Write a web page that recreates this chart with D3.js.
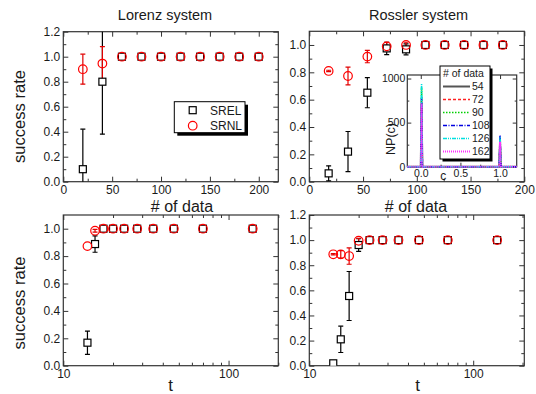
<!DOCTYPE html>
<html><head><meta charset="utf-8">
<script src="https://cdn.jsdelivr.net/npm/d3@7"></script>
<style>
body{margin:0;background:#fff;}
svg{display:block;font-family:"Liberation Sans",Arial,sans-serif;}
</style></head>
<body>
<svg id="chart" width="536" height="394"></svg>
<script>
// ---------------- data ----------------
const lorenzN = [20,40,60,80,100,120,140,160,180,200];
const lorenzSREL = [0.10,0.80,1,1,1,1,1,1,1,1];
const lorenzSRELerr = [0.32,0.42,0,0,0,0,0,0,0,0];
const lorenzSRNL = [0.90,0.945,1,1,1,1,1,1,1,1];
const lorenzSRNLerr = [0.12,0.135,0,0,0,0,0,0,0,0];

const rosslerN = [18,36,54,72,90,108,126,144,162,180];
const rosslerSREL = [0.061,0.22,0.651,0.975,0.968,1,1,1,1,1];
const rosslerSRELerr = [0.055,0.147,0.11,0.045,0.04,0,0,0,0,0];
const rosslerSRNL = [0.81,0.773,0.915,0.99,1.0,1,1,1,1,1];
const rosslerSRNLerr = [0.005,0.065,0.045,0.03,0.02,0,0,0,0,0];

const tValues = [14,15.56,17.5,20,23.33,28,35,46.67,70,140];
const lorenzTSREL = [0.168,0.888,1,1,1,1,1,1,1,1];
const lorenzTSRELerr = [0.085,0.06,0,0,0,0,0,0,0,0];
const lorenzTSRNL = [0.873,0.985,1,1,1,1,1,1,1,1];
const lorenzTSRNLerr = [0,0.01,0,0,0,0,0,0,0,0];

const rosslerTSREL = [0.019,0.21,0.555,0.961,1,1,1,1,1,1];
const rosslerTSRELerr = [0.01,0.105,0.195,0.05,0,0,0,0,0,0];
const rosslerTSRNL = [0.887,0.887,0.873,0.995,1,1,1,1,1,1];
const rosslerTSRNLerr = [0.005,0.03,0.065,0.02,0,0,0,0,0,0];

// inset histogram NP(c)
const insetSeries = ["54","72","90","108","126","162"];
const insetC = [-0.17,0.0,0.01,0.02,0.99,1.0,1.01,1.21];
const np54  = [0,0,700,0,0,300,0,0];
const np72  = [0,0,763,0,0,310,0,0];
const np90  = [0,0,900,0,0,290,0,0];
const np108 = [0,0,786,0,0,359,0,0];
const np126 = [0,0,943,0,0,335,0,0];
const np162 = [0,0,718,0,0,283,0,0];

const legendLabels = ["SREL","SRNL"];
const linTicks = [0,50,100,150,200];
const linMinor = [25,75,125,175];
const yTicks12 = [0,0.2,0.4,0.6,0.8,1.0,1.2];
const yTicks10 = [0,0.2,0.4,0.6,0.8,1.0];
const logTicks = [10,100];
const logMinor = [20,30,40,50,60,70,80,90,200];

// ---------------- drawing ----------------
const svg = d3.select("#chart");
const TXT = "#1a1a1a", AX = "#333";

function frame(x, y, o){
  const g = svg.append("g");
  const [x0,x1] = x.range(), [y0,y1] = y.range();
  const mk = (axisFn, scale, vals, size, fmt, pos, pad) => {
    const a = axisFn(scale).tickValues(vals).tickSize(size).tickSizeOuter(0).tickPadding(pad||3);
    a.tickFormat(fmt || (()=> ""));
    const gg = g.append("g").attr("transform", pos).call(a);
    gg.select(".domain").remove();
    gg.selectAll("line").attr("stroke", AX).attr("stroke-width",1);
    gg.selectAll("text").attr("fill", TXT).style("font-size", (o.fs||12)+"px").style("font-family","'Liberation Sans',Arial,sans-serif");
    return gg;
  };
  const M = o.major||5, m = o.minor||3;
  mk(d3.axisBottom, x, o.xt, -M, o.xf, `translate(0,${y0})`, o.xpad||4);
  mk(d3.axisBottom, x, o.xm, -m, null, `translate(0,${y0})`);
  mk(d3.axisTop, x, o.xt, -M, null, `translate(0,${y1})`);
  mk(d3.axisTop, x, o.xm, -m, null, `translate(0,${y1})`);
  mk(d3.axisLeft, y, o.yt, -M, o.yf, `translate(${x0},0)`, o.ypad||3);
  mk(d3.axisLeft, y, o.ym, -m, null, `translate(${x0},0)`);
  mk(d3.axisRight, y, o.yt, -M, null, `translate(${x1},0)`);
  mk(d3.axisRight, y, o.ym, -m, null, `translate(${x1},0)`);
  g.append("rect").attr("x",x0).attr("y",y1).attr("width",x1-x0).attr("height",y0-y1)
    .attr("fill","none").attr("stroke",AX).attr("stroke-width",1.2);
  return g;
}

let clipId = 0;
function points(x, y, xs, srel, srelErr, srnl, srnlErr){
  const [x0,x1] = x.range(), [y0,y1] = y.range();
  const id = "clip"+(clipId++);
  svg.append("clipPath").attr("id",id).append("rect").attr("x",x0).attr("y",y1).attr("width",x1-x0).attr("height",y0-y1);
  const g = svg.append("g").attr("clip-path",`url(#${id})`);
  const err = (vals, errs, color) => {
    xs.forEach((xv,i)=>{
      if(!errs[i]) return;
      const cx = x(xv), ya = y(vals[i]+errs[i]), yb = y(vals[i]-errs[i]);
      g.append("line").attr("x1",cx).attr("x2",cx).attr("y1",ya).attr("y2",yb).attr("stroke",color).attr("stroke-width",1.2);
      [ya,yb].forEach(yy=> g.append("line").attr("x1",cx-2.5).attr("x2",cx+2.5).attr("y1",yy).attr("y2",yy).attr("stroke",color).attr("stroke-width",1.2));
    });
  };
  err(srel, srelErr, "#000");
  err(srnl, srnlErr, "#e00000");
  g.selectAll(null).data(xs).join("rect")
    .attr("x",(d)=>x(d)-3.5).attr("y",(d,i)=>y(srel[i])-3.5).attr("width",7).attr("height",7)
    .attr("fill","#fff").attr("stroke","#000").attr("stroke-width",1.2);
  g.selectAll(null).data(xs).join("circle")
    .attr("cx",(d)=>x(d)).attr("cy",(d,i)=>y(srnl[i])).attr("r",4.3)
    .attr("fill","none").attr("stroke","#ff0000").attr("stroke-width",1.2);
}

const fmt1 = d3.format(".1f");

// Top-left: Lorenz
const xTL = d3.scaleLinear().domain([0,220]).range([63.3,278.3]);
const yTL = d3.scaleLinear().domain([0,1.2]).range([181.7,31.7]);
frame(xTL,yTL,{xt:linTicks,xm:linMinor,yt:yTicks12,ym:[0.1,0.3,0.5,0.7,0.9,1.1],xf:d3.format("d"),yf:fmt1});
points(xTL,yTL,lorenzN,lorenzSREL,lorenzSRELerr,lorenzSRNL,lorenzSRNLerr);

// Top-right: Rossler
const xTR = d3.scaleLinear().domain([0,200]).range([309.3,524.3]);
const yTR = d3.scaleLinear().domain([0,1.1]).range([181.7,31.3]);
frame(xTR,yTR,{xt:linTicks,xm:linMinor,yt:yTicks10,ym:[0.1,0.3,0.5,0.7,0.9],xf:d3.format("d"),yf:fmt1});
points(xTR,yTR,rosslerN,rosslerSREL,rosslerSRELerr,rosslerSRNL,rosslerSRNLerr);

// Bottom-left
const xBL = d3.scaleLog().domain([10,200]).range([63.3,278.3]);
const yBL = d3.scaleLinear().domain([0,1.1]).range([365.7,215]);
frame(xBL,yBL,{xt:logTicks,xm:logMinor,yt:yTicks10,ym:[0.1,0.3,0.5,0.7,0.9],xf:d3.format("d"),yf:fmt1});
points(xBL,yBL,tValues,lorenzTSREL,lorenzTSRELerr,lorenzTSRNL,lorenzTSRNLerr);

// Bottom-right
const xBR = d3.scaleLog().domain([10,205]).range([309.3,524.3]);
const yBR = d3.scaleLinear().domain([0,1.2]).range([365.7,215]);
frame(xBR,yBR,{xt:logTicks,xm:logMinor,yt:yTicks12,ym:[0.1,0.3,0.5,0.7,0.9,1.1],xf:d3.format("d"),yf:fmt1});
points(xBR,yBR,tValues,rosslerTSREL,rosslerTSRELerr,rosslerTSRNL,rosslerTSRNLerr);

// Titles and labels
const text = (x,y,s,size,anchor,rot)=>{
  const t = svg.append("text").attr("fill",TXT).style("font-size",size+"px").attr("text-anchor",anchor||"middle").text(s);
  if(rot) t.attr("transform",`translate(${x},${y}) rotate(-90)`); else t.attr("x",x).attr("y",y);
  return t;
};
text(165,20,"Lorenz system",14.5);
text(418.5,20,"Rossler system",14.5);
text(182,211.5,"# of data",16);
text(416,211.5,"# of data",16);
text(170.7,391,"t",17);
text(417.7,391,"t",17);
text(25,116.5,"success rate",16.6,"middle",true);
text(25,303,"success rate",16.6,"middle",true);

// Legend top-left
{
  const lx=174.3, ly=101.7, lw=70.7, lh=31;
  svg.append("rect").attr("x",lx+3).attr("y",ly+3).attr("width",lw).attr("height",lh).attr("fill","#000");
  svg.append("rect").attr("x",lx).attr("y",ly).attr("width",lw).attr("height",lh).attr("fill","#fff").attr("stroke","#000").attr("stroke-width",1);
  legendLabels.forEach((lab,i)=>{
    const cy = ly+8.5+i*15.5;
    if(i===0) svg.append("rect").attr("x",192.7-3.5).attr("y",cy-3.5).attr("width",7).attr("height",7).attr("fill","none").attr("stroke","#000").attr("stroke-width",1.2);
    else svg.append("circle").attr("cx",192.7).attr("cy",cy).attr("r",4.3).attr("fill","none").attr("stroke","#ff0000").attr("stroke-width",1.2);
    text(210,cy+4.3,lab,12,"start");
  });
}

// Inset
const xIn = d3.scaleLinear().domain([-0.17,1.21]).range([407.3,516.7]);
const yIn = d3.scaleLinear().domain([0,1040]).range([166.7,75]);
svg.append("rect").attr("x",407.3).attr("y",75).attr("width",109.4).attr("height",91.7).attr("fill","#fff");
frame(xIn,yIn,{xt:[0,0.5,1.0],xm:[0.25,0.75],yt:[0,500,1000],ym:[250,750],xf:fmt1,yf:d3.format("d"),fs:10.5,major:4,minor:2,xpad:3,ypad:2});
const insetVals = [np54,np72,np90,np108,np126,np162];
const insetColors = ["#555555","#ff2020","#00d000","#0000e0","#00e0e0","#ff30ff"];
const insetDash = [null,"3,2","1.5,1.5","4,1.5,1,1.5","4,1,1,1,1,1","1,1"];
const insetWidth = [2,1.6,1.6,1.6,1.6,2];
const line = d3.line().x((d)=>xIn(d[0])).y((d)=>yIn(d[1]));
insetVals.forEach((vals,k)=>{
  svg.append("path").attr("d",line(insetC.map((c,i)=>[c,vals[i]])))
    .attr("fill","none").attr("stroke",insetColors[k]).attr("stroke-width",insetWidth[k])
    .attr("stroke-dasharray",insetDash[k]);
});
text(443.3,180,"c",12);
text(395,139,"NP(c)",12.5,"middle",true);

// inset legend
{
  const lx=440, ly=66, lw=50, lh=93;
  svg.append("rect").attr("x",lx+2.5).attr("y",ly+2.5).attr("width",lw).attr("height",lh).attr("fill","#000");
  svg.append("rect").attr("x",lx).attr("y",ly).attr("width",lw).attr("height",lh).attr("fill","#fff").attr("stroke","#000").attr("stroke-width",1);
  text(443,77,"# of data",10.5,"start");
  insetSeries.forEach((lab,k)=>{
    const cy = 86.5 + k*13;
    svg.append("line").attr("x1",443).attr("x2",470).attr("y1",cy).attr("y2",cy)
      .attr("stroke",insetColors[k]).attr("stroke-width",insetWidth[k]).attr("stroke-dasharray",insetDash[k]);
    text(472,cy+3.8,lab,10.5,"start");
  });
}
</script>
</body></html>
